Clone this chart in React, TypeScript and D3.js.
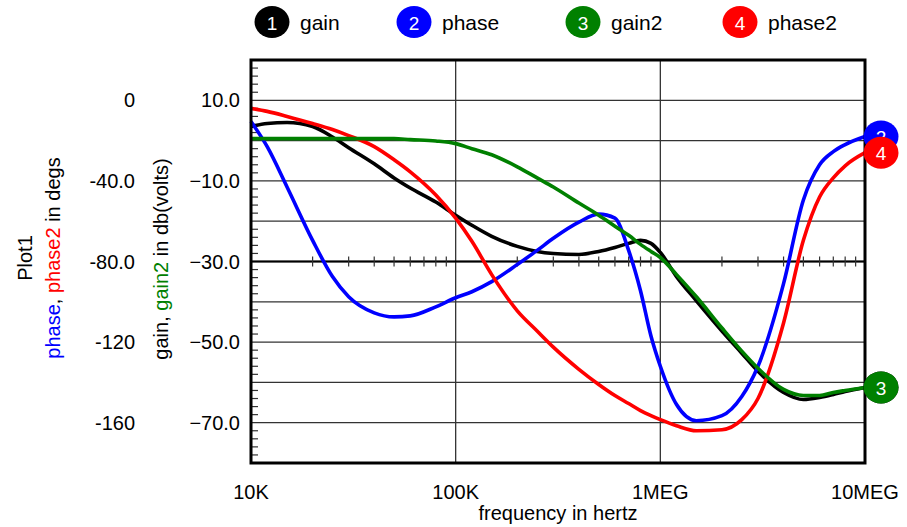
import * as d3 from 'd3';

const freqs = [1e4, 1.2e4, 1.5e4, 2e4, 2.5e4, 3e4, 4e4, 5e4, 6e4, 8e4, 1e5, 1.2e5, 1.5e5, 2e5, 2.5e5, 3e5, 4e5, 5e5, 6e5, 7e5, 8e5, 9e5, 1e6, 1.2e6, 1.5e6, 2e6, 2.5e6, 3e6, 4e6, 5e6, 6e6, 7e6, 8e6, 1e7];

const gain = [3.5, 4.25, 4.5, 3.5, 0.9, -1.75, -5.75, -9.25, -11.75, -15.25, -18.5, -21, -23.75, -26.25, -27.5, -28, -28.25, -27.5, -26.5, -25.5, -24.75, -25.5, -27.75, -33.75, -39.75, -47.25, -52.75, -57.25, -62.5, -64.25, -63.75, -63, -62.25, -61.25];
const phase = [-10.5, -23, -43, -69.5, -87.5, -97.5, -105.5, -107.5, -107, -102.5, -98, -95, -90, -81.5, -74.5, -68.5, -60.5, -56.5, -58.5, -74.5, -94.5, -117, -132, -151, -159, -156.5, -147, -132, -91, -49.5, -32, -25.5, -22, -18];
const gain2 = [0.5, 0.5, 0.5, 0.5, 0.5, 0.5, 0.5, 0.5, 0.25, -0.1, -0.75, -2, -3.5, -6.5, -9.25, -11.5, -15.5, -18.5, -21.25, -23.5, -25.75, -27.5, -29, -33.25, -38.75, -46.5, -52.25, -56.5, -61.75, -63.25, -63.25, -62.5, -62, -61.25];
const phase2 = [-4, -5.5, -8, -11.5, -14.5, -17.5, -23, -29.5, -35.5, -47, -58.5, -70, -86.5, -104.5, -114.5, -122.5, -133.5, -141, -146.5, -150.5, -154, -156.5, -158.5, -161.5, -164, -163.5, -158.5, -148, -110.5, -69.5, -48, -38.5, -32.5, -26];

const gainTicks = [10, -10, -30, -50, -70];
const phaseTicks = [0, -40, -80, -120, -160];
const phaseTickLabels = ['0', '-40.0', '-80.0', '-120', '-160'];
const decades = [1e4, 1e5, 1e6, 1e7];
const decadeLabels = ['10K', '100K', '1MEG', '10MEG'];

const seriesInfo = [
  { id: 1, name: 'gain', color: '#000000', values: gain, axis: 'gain' },
  { id: 2, name: 'phase', color: '#0000ff', values: phase, axis: 'phase' },
  { id: 3, name: 'gain2', color: '#008000', values: gain2, axis: 'gain' },
  { id: 4, name: 'phase2', color: '#ff0000', values: phase2, axis: 'phase' },
];
const legendX = [272, 414, 583, 740];

const font = '"Liberation Sans", Arial, sans-serif';

export default function App() {
  const left = 251, right = 865, top = 60, bottom = 463;
  const x = d3.scaleLog().domain([1e4, 1e7]).range([left, right]);
  const yGain = d3.scaleLinear().domain([20, -80]).range([top, bottom]);
  const yPhase = d3.scaleLinear().domain([20, -180]).range([top, bottom]);

  const gridVals = d3.range(10, -71, -10);
  const minorY = d3.range(18, -80, -2).filter(v => v % 10 !== 0);
  const minorX: number[] = [];
  [1e4, 1e5, 1e6].forEach(d => { for (let k = 2; k <= 9; k++) minorX.push(k * d); });
  const axisY = yGain(-30);

  const drawOrder = [0, 1, 3, 2];

  return (
    <svg width={907} height={527} style={{ position: 'absolute', left: 0, top: 0, background: '#fff' }} fontFamily={font}>
      <rect x={0} y={0} width={907} height={527} fill="#fff" />
      {/* horizontal grid */}
      {gridVals.map(v => (
        <line key={'h' + v} x1={left} x2={right} y1={yGain(v)} y2={yGain(v)} stroke="#333" strokeWidth={1.3} />
      ))}
      {/* vertical decade lines */}
      {decades.slice(1, 3).map(d => (
        <line key={'v' + d} x1={x(d)} x2={x(d)} y1={top} y2={bottom} stroke="#333" strokeWidth={1.3} />
      ))}
      {/* x axis at -30 dB */}
      <line x1={left} x2={right} y1={axisY} y2={axisY} stroke="#000" strokeWidth={2.2} />
      {minorX.map(f => (
        <line key={'mx' + f} x1={x(f)} x2={x(f)} y1={axisY - 5} y2={axisY + 5} stroke="#333" strokeWidth={1.2} />
      ))}
      {/* left minor ticks */}
      {minorY.map(v => (
        <line key={'my' + v} x1={left} x2={left + 7} y1={yGain(v)} y2={yGain(v)} stroke="#333" strokeWidth={1.2} />
      ))}
      {/* curves */}
      {drawOrder.map(i => {
        const s = seriesInfo[i];
        const yS = s.axis === 'gain' ? yGain : yPhase;
        const line = d3.line<number>()
          .x((_, j) => x(freqs[j]))
          .y(v => yS(v))
          .curve(d3.curveMonotoneX);
        return (
          <path key={s.name} d={line(s.values) || ''} fill="none" stroke={s.color} strokeWidth={3.6} strokeLinejoin="round" />
        );
      })}
      {/* border */}
      <rect x={left} y={top} width={right - left} height={bottom - top} fill="none" stroke="#000" strokeWidth={3} />
      {/* right-end markers */}
      {seriesInfo.map(s => {
        const yS = s.axis === 'gain' ? yGain : yPhase;
        const cy = yS(s.values[s.values.length - 1]);
        return (
          <g key={'m' + s.id}>
            <ellipse cx={right + 16} cy={cy} rx={17.5} ry={16} fill={s.color} />
            <text x={right + 16} y={cy + 1} textAnchor="middle" dominantBaseline="central" fill="#fff" fontSize={19}>{s.id}</text>
          </g>
        );
      })}
      {/* legend */}
      {seriesInfo.map((s, i) => (
        <g key={'l' + s.id}>
          <ellipse cx={legendX[i]} cy={22} rx={17.5} ry={16} fill={s.color} />
          <text x={legendX[i]} y={23} textAnchor="middle" dominantBaseline="central" fill="#fff" fontSize={19}>{s.id}</text>
          <text x={legendX[i] + 28} y={22} dominantBaseline="central" fill="#000" fontSize={21}>{s.name}</text>
        </g>
      ))}
      {/* gain tick labels */}
      {gainTicks.map(v => (
        <text key={'gt' + v} x={240} y={yGain(v)} textAnchor="end" dominantBaseline="central" fontSize={20}>{d3.format('.1f')(v)}</text>
      ))}
      {/* phase tick labels */}
      {phaseTicks.map((v, i) => (
        <text key={'pt' + v} x={135} y={yPhase(v)} textAnchor="end" dominantBaseline="central" fontSize={20}>{phaseTickLabels[i]}</text>
      ))}
      {/* x tick labels */}
      {decades.map((d, i) => (
        <text key={'xt' + d} x={x(d)} y={499} textAnchor="middle" fontSize={20}>{decadeLabels[i]}</text>
      ))}
      <text x={(left + right) / 2} y={520} textAnchor="middle" fontSize={20}>frequency in hertz</text>
      {/* axis titles */}
      <text transform="translate(168,259) rotate(-90)" textAnchor="middle" fontSize={20}>
        <tspan fill="#000">gain, </tspan>
        <tspan fill="#008000">gain2</tspan>
        <tspan fill="#000"> in db(volts)</tspan>
      </text>
      <text transform="translate(60,258) rotate(-90)" textAnchor="middle" fontSize={20}>
        <tspan fill="#0000ff">phase</tspan>
        <tspan fill="#000">, </tspan>
        <tspan fill="#ff0000">phase2</tspan>
        <tspan fill="#000"> in degs</tspan>
      </text>
      <text transform="translate(32,258) rotate(-90)" textAnchor="middle" fontSize={20}>Plot1</text>
    </svg>
  );
}
